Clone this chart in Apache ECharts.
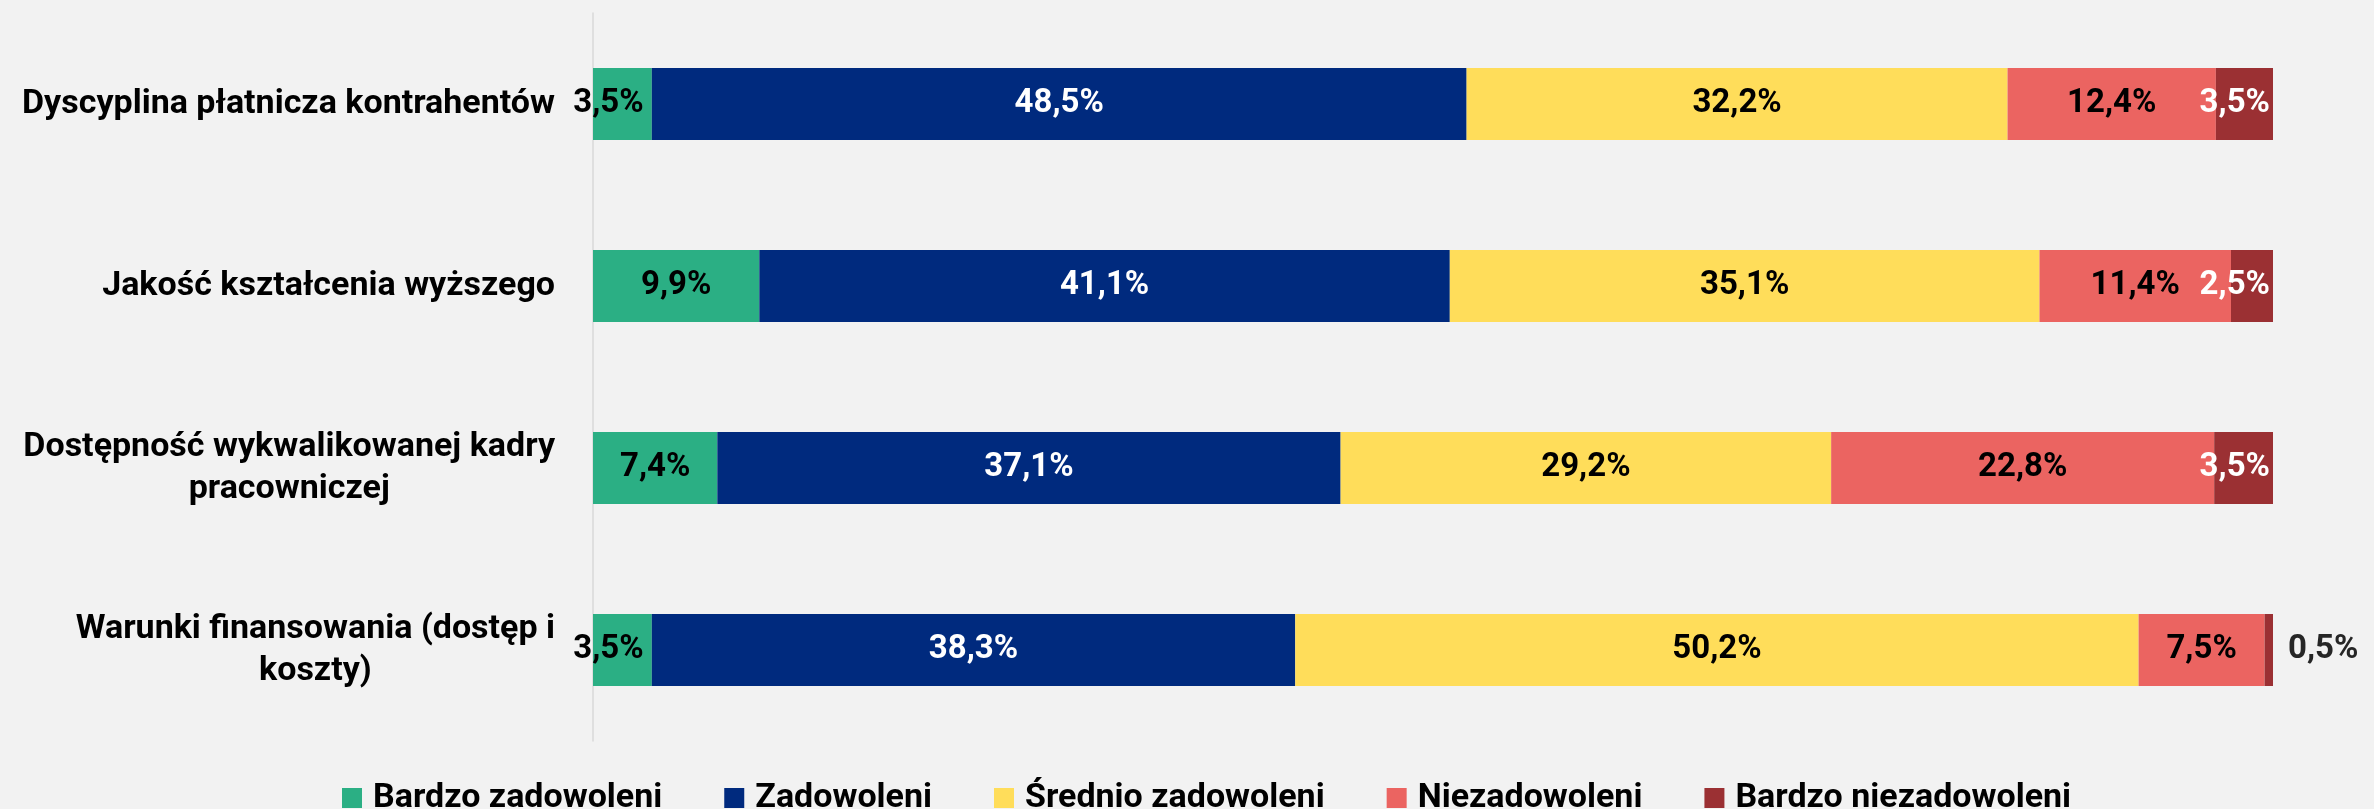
<!DOCTYPE html>
<html>
<head>
<meta charset="utf-8">
<script src="https://cdn.jsdelivr.net/npm/echarts@6/dist/echarts.min.js"></script>
<style>
  html, body { margin: 0; padding: 0; background: #f2f2f2; }
  #chart { width: 2374px; height: 809px; }
</style>
</head>
<body>
<div id="chart"></div>
<script>
  // kategorie (od góry)
  const categories = [
    'Dyscyplina płatnicza kontrahentów',
    'Jakość kształcenia wyższego',
    'Dostępność wykwalikowanej kadry\npracowniczej',
    'Warunki finansowania (dostęp i\nkoszty)'
  ]
  const seriesNames = ['Bardzo zadowoleni', 'Zadowoleni', 'Średnio zadowoleni', 'Niezadowoleni', 'Bardzo niezadowoleni']
  const bardzoZadowoleni = [3.5, 9.9, 7.4, 3.5]
  const zadowoleni = [48.5, 41.1, 37.1, 38.3]
  const srednioZadowoleni = [32.2, 35.1, 29.2, 50.2]
  const niezadowoleni = [12.4, 11.4, 22.8, 7.5]
  const bardzoNiezadowoleni = [3.5, 2.5, 3.5, 0.5]

  const colors = ['#2baf84', '#002a7e', '#ffdd5a', '#eb6461', '#9b3033']
  const labelColors = ['#000', '#fff', '#000', '#000', '#fff']
  const FONT = 'Roboto'

  function fmt (v) {
    return v.toFixed(1).replace('.', ',') + '%'
  }

  function makeSeries (idx, values) {
    let data = values.map(function (v) {
      let item = { value: v }
      // małe wartości - etykieta przesunięta jak w oryginale
      if (idx === 0 && v < 5) {
        item.label = { offset: [-14, 0] }
      }
      if (idx === 4) {
        if (v < 1) {
          item.label = { position: 'right', distance: 15, color: '#262626' }
        } else {
          item.label = { position: 'insideRight', distance: 3 }
        }
      }
      return item
    })
    return {
      name: seriesNames[idx],
      type: 'bar',
      stack: 'total',
      barWidth: 72,
      itemStyle: { color: colors[idx] },
      label: {
        show: true,
        position: 'inside',
        color: labelColors[idx],
        fontFamily: FONT,
        fontWeight: 'bold',
        fontSize: 33,
        formatter: function (p) { return fmt(p.value) }
      },
      emphasis: { disabled: true },
      data: data
    }
  }

  let chart = echarts.init(document.getElementById('chart'))
  let option = {
    animation: false,
    backgroundColor: '#f2f2f2',
    legend: {
      left: 337,
      top: 776,
      itemWidth: 20,
      itemHeight: 20,
      itemGap: 62,
      icon: 'rect',
      textStyle: {
        fontFamily: FONT,
        fontWeight: 'bold',
        fontSize: 34,
        color: '#000',
        padding: [0, 0, 0, 6]
      },
      data: seriesNames
    },
    grid: {
      left: 593,
      right: 101,
      top: 13,
      bottom: 68
    },
    xAxis: {
      type: 'value',
      min: 0,
      max: 100,
      show: false
    },
    yAxis: {
      type: 'category',
      inverse: true,
      data: categories,
      axisLine: { show: true, lineStyle: { color: '#d9d9d9', width: 1.5 } },
      axisTick: { show: false },
      axisLabel: {
        margin: 38,
        formatter: function (v) {
          return v.split('\n').map(function (l) { return '{c|' + l + '}' }).join('\n')
        },
        rich: {
          c: {
            align: 'center',
            fontFamily: FONT,
            fontWeight: 'bold',
            fontSize: 34,
            lineHeight: 42,
            color: '#000'
          }
        }
      }
    },
    series: [
      makeSeries(0, bardzoZadowoleni),
      makeSeries(1, zadowoleni),
      makeSeries(2, srednioZadowoleni),
      makeSeries(3, niezadowoleni),
      makeSeries(4, bardzoNiezadowoleni)
    ]
  }
  chart.setOption(option)
</script>
</body>
</html>
